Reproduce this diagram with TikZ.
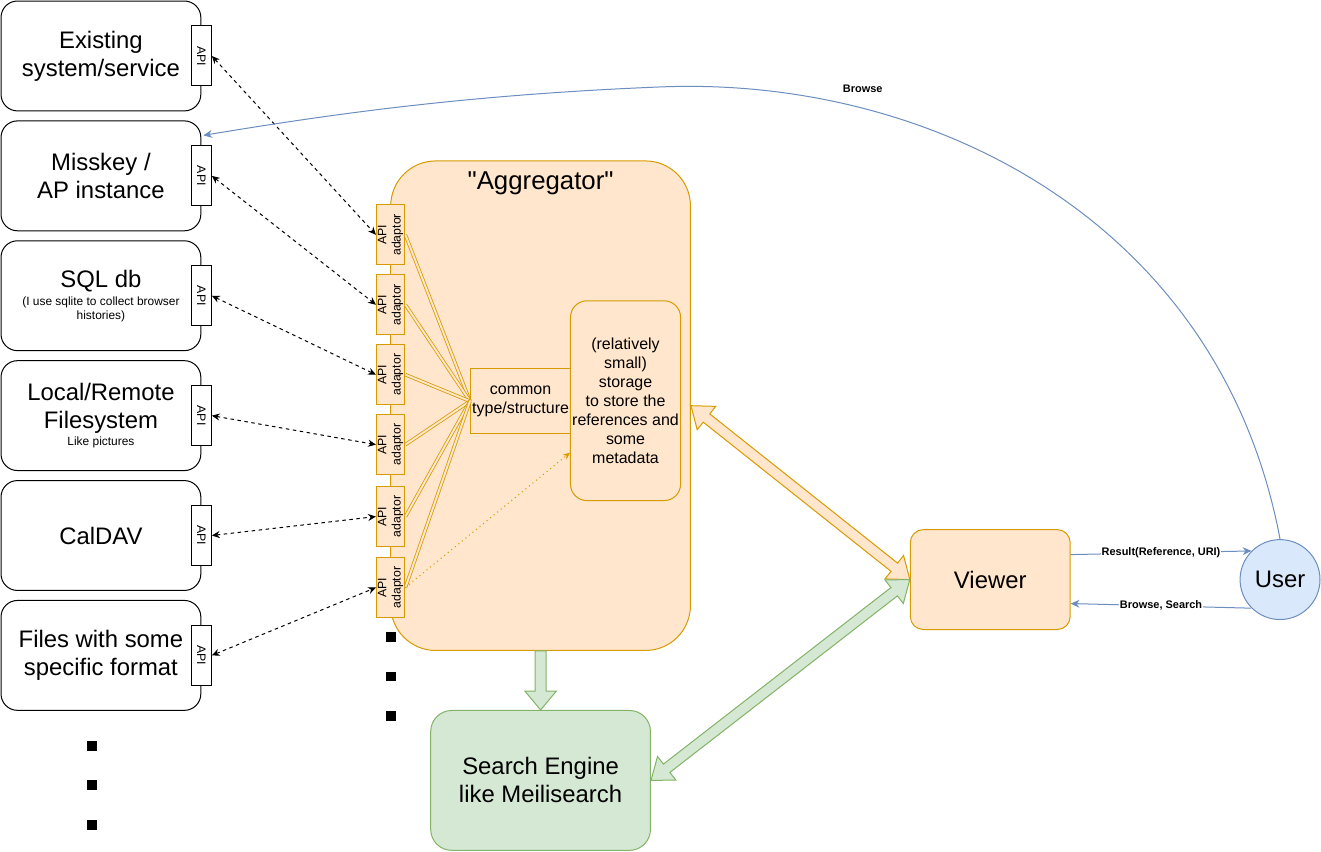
\documentclass[tikz,border=0pt]{standalone}
\usepackage{fontspec}
\setmainfont{Liberation Sans}
\usetikzlibrary{positioning, arrows.meta, calc}

\definecolor{aggfill}{HTML}{FFE6CC}
\definecolor{aggline}{HTML}{D79B00}
\definecolor{srchfill}{HTML}{D5E8D4}
\definecolor{srchline}{HTML}{82B366}
\definecolor{userfill}{HTML}{DAE8FC}
\definecolor{userline}{HTML}{6C8EBF}

\newcommand{\bigfont}{\fontsize{13.6pt}{15.9pt}\selectfont}
\newcommand{\midfont}{\fontsize{9.1pt}{10.9pt}\selectfont}
\newcommand{\smallfont}{\fontsize{6.8pt}{7.9pt}\selectfont}
\newcommand{\apiadaptor}{\rotatebox{90}{\begin{tabular}{@{}c@{}}API\\adaptor\end{tabular}}}

% block arrows: #1 colours, #2 from, #3 to
\newcommand{\fatarrow}[3]{%
  \path (#2) coordinate (fa-s) (#3) coordinate (fa-e);
  \coordinate (fa-h) at ($(fa-e)!10.8pt!(fa-s)$);
  \filldraw[#1] ($(fa-s)!3.1pt!90:(fa-e)$) -- ($(fa-h)!3.1pt!90:(fa-e)$)
    -- ($(fa-h)!9pt!90:(fa-e)$) -- (fa-e) -- ($(fa-h)!9pt!-90:(fa-e)$)
    -- ($(fa-h)!3.1pt!-90:(fa-e)$) -- ($(fa-s)!3.1pt!-90:(fa-e)$) -- cycle;
}
\newcommand{\fatdblarrow}[3]{%
  \path (#2) coordinate (fa-s) (#3) coordinate (fa-e);
  \coordinate (fa-h) at ($(fa-e)!11.3pt!(fa-s)$);
  \coordinate (fa-g) at ($(fa-s)!11.3pt!(fa-e)$);
  \filldraw[#1] (fa-s) -- ($(fa-g)!8.5pt!90:(fa-e)$) -- ($(fa-g)!3pt!90:(fa-e)$)
    -- ($(fa-h)!3pt!90:(fa-e)$) -- ($(fa-h)!8.5pt!90:(fa-e)$) -- (fa-e)
    -- ($(fa-h)!8.5pt!-90:(fa-e)$) -- ($(fa-h)!3pt!-90:(fa-e)$)
    -- ($(fa-g)!3pt!-90:(fa-e)$) -- ($(fa-g)!8.5pt!-90:(fa-e)$) -- cycle;
}

\begin{document}
\begin{tikzpicture}[x=0.02cm, y=-0.02cm, line width=0.57pt,
  source/.style={draw=black, fill=white, rounded corners=0.33cm, minimum width=4cm,
                 minimum height=2.2cm, align=center, font=\bigfont},
  apitab/.style={draw=black, fill=white, minimum width=0.4cm, minimum height=1.2cm,
                 inner sep=0pt, font=\fontsize{7pt}{8.4pt}\selectfont},
  aggbox/.style={draw=aggline, fill=aggfill, rounded corners=0.9cm, minimum width=6cm,
                 minimum height=9.8cm},
  title/.style={font=\fontsize{14.7pt}{17pt}\selectfont},
  adaptor/.style={draw=aggline, fill=aggfill, minimum width=0.56cm, minimum height=1.2cm,
                  inner sep=0pt, font=\fontsize{7pt}{8.1pt}\selectfont},
  common/.style={draw=aggline, fill=aggfill, minimum width=2cm, minimum height=1.3cm,
                 inner sep=1pt, align=center, font=\midfont},
  store/.style={draw=aggline, fill=aggfill, rounded corners=0.33cm, minimum width=2.2cm,
                minimum height=4cm, inner sep=1pt, align=center, font=\midfont},
  search/.style={draw=srchline, fill=srchfill, rounded corners=0.42cm, minimum width=4.4cm,
                 minimum height=2.8cm, align=center, font=\bigfont},
  viewer/.style={draw=aggline, fill=aggfill, rounded corners=0.26cm, minimum width=3.2cm,
                 minimum height=2cm, font=\bigfont},
  user/.style={circle, draw=userline, fill=userfill, minimum size=1.6cm, inner sep=0pt,
               font=\bigfont},
  dot/.style={fill=black, minimum size=0.2cm, inner sep=0pt},
  link/.style={{Stealth[length=4.5pt, width=4pt]}-{Stealth[length=4.5pt, width=4pt]},
               dash pattern=on 2pt off 2pt},
  feed/.style={draw=aggline, double=aggfill, double distance=1.1pt, line width=0.45pt},
  hint/.style={-{Stealth[length=4pt, width=3.5pt]}, draw=aggline, dash pattern=on 0.6pt off 2pt},
  uarr/.style={-{Stealth[length=5pt, width=4.5pt]}, draw=userline},
  lbl/.style={font=\fontsize{6.24pt}{7.5pt}\selectfont\bfseries, fill=white, inner sep=0.5pt},
]
\useasboundingbox (-1,-1) rectangle (1321,851);

% Data sources
\node[source] (src1) at (100,55) {Existing\\system/service};
\node[source, below=0.18cm of src1] (src2) {Misskey /\\AP instance};
\node[source, below=0.18cm of src2] (src3)
  {SQL db\\[-5.3pt]\smallfont (I use sqlite to collect browser\\[-8.3pt]\smallfont histories)};
\node[source, below=0.18cm of src3] (src4)
  {Local/Remote\\Filesystem\\[-6.3pt]\smallfont Like pictures};
\node[source, below=0.18cm of src4] (src5) {CalDAV};
\node[source, below=0.18cm of src5] (src6) {Files with some\\specific format};

% API tabs
\node[apitab] (api1) at (src1.east) {\rotatebox{-90}{API}};
\node[apitab] (api2) at (src2.east) {\rotatebox{-90}{API}};
\node[apitab] (api3) at (src3.east) {\rotatebox{-90}{API}};
\node[apitab] (api4) at (src4.east) {\rotatebox{-90}{API}};
\node[apitab] (api5) at (src5.east) {\rotatebox{-90}{API}};
\node[apitab] (api6) at (src6.east) {\rotatebox{-90}{API}};

% Aggregator
\node[aggbox] (agg) at (540,405) {};
\node[title] (aggtitle) at ($(agg.north)+(0,23)$) {\textquotedbl Aggregator\textquotedbl};

% API adaptors
\node[adaptor] (ad1) at (390,234) {\apiadaptor};
\node[adaptor, below=0.18cm of ad1] (ad2) {\apiadaptor};
\node[adaptor, below=0.18cm of ad2] (ad3) {\apiadaptor};
\node[adaptor, below=0.18cm of ad3] (ad4) {\apiadaptor};
\node[adaptor, below=0.22cm of ad4] (ad5) {\apiadaptor};
\node[adaptor, below=0.2cm of ad5] (ad6) {\apiadaptor};

% Inside the aggregator
\node[common] (common) at (520,400.5) {common\\type/structure};
\node[store] (storage) at (625,400)
  {(relatively\\small)\\storage\\to store the\\references and\\some\\metadata};

% Search engine, viewer, user
\node[search] (search) at (540,780) {Search Engine\\like Meilisearch};
\node[viewer] (viewer) at (990,579) {Viewer};
\node[user] (user) at (1280,579) {User};

% More sources / adaptors
\node[dot] (moresrc1) at (91,746) {};
\node[dot] (moresrc2) at (91,785) {};
\node[dot] (moresrc3) at (91,825) {};
\node[dot] (moread1) at (390,636) {};
\node[dot] (moread2) at (390,676) {};
\node[dot] (moread3) at (390,716) {};

% Source <-> adaptor
\draw[link] (api1.east) -- (ad1.west);
\draw[link] (api2.east) -- (ad2.west);
\draw[link] (api3.east) -- (ad3.west);
\draw[link] (api4.east) -- (ad4.west);
\draw[link] (api5.east) -- (ad5.west);
\draw[link] (api6.east) -- (ad6.west);

% Adaptor -> common type
\draw[feed] (ad1.east) -- (common.west);
\draw[feed] (ad2.east) -- (common.west);
\draw[feed] (ad3.east) -- (common.west);
\draw[feed] (ad4.east) -- (common.west);
\draw[feed] (ad5.east) -- (common.west);
\draw[feed] (ad6.east) -- (common.west);
\coordinate (storein) at ($(storage.west)+(0,52)$);
\draw[hint] (ad6.east) -- (storein);

% Block arrows
\fatarrow{draw=srchline, fill=srchfill}{agg.south}{search.north}
\fatdblarrow{draw=aggline, fill=aggfill}{agg.east}{viewer.west}
\fatdblarrow{draw=srchline, fill=srchfill}{viewer.west}{search.east}

% Viewer <-> user
\coordinate (resultout) at ($(viewer.east)+(0,-25)$);
\coordinate (queryin) at ($(viewer.east)+(0,24)$);
\draw[uarr] (resultout) -- node[lbl] {Result(Reference, URI)} (user.135);
\draw[uarr] (user.225) -- node[lbl] {Browse, Search} (queryin);

% Browse the original
\coordinate (browsein) at ($(src2.north east)+(2,15)$);
\draw[uarr] (user.north) .. controls (1220,220) and (930,75) ..
  node[lbl, pos=0.75, above=8pt, fill=none] (browselbl) {Browse} (660,86)
  .. controls (460,94) and (320,115) .. (browsein);

\end{tikzpicture}
\end{document}
